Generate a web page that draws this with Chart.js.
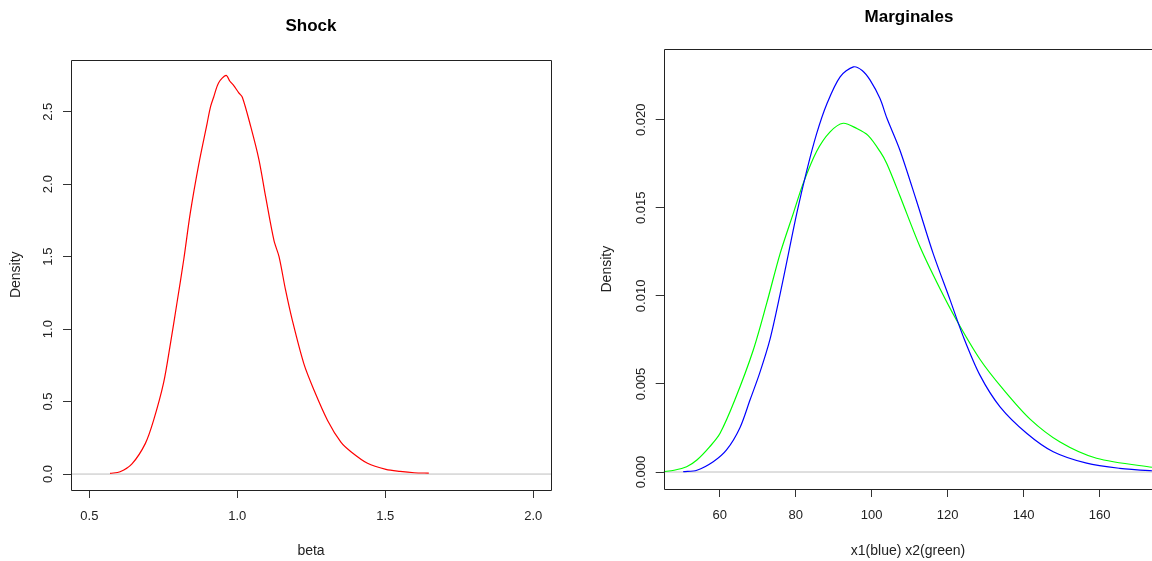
<!DOCTYPE html>
<html><head><meta charset="utf-8">
<script src="https://cdn.jsdelivr.net/npm/chart.js@4/dist/chart.umd.min.js"></script>
<style>
html,body{margin:0;padding:0;background:#fff;overflow:hidden;width:1152px;height:561px}
.wrap{position:absolute;top:0;height:561px}
#w1{left:0;width:576px}
#w2{left:576px;width:576px}
canvas{display:block}
</style></head><body>
<div class="wrap" id="w1"><canvas id="c1" width="576" height="561"></canvas></div>
<div class="wrap" id="w2"><canvas id="c2" width="576" height="561"></canvas></div>
<script>
// ---------- Left panel: Shock ----------
const shockTitle = 'Shock';
const shockXLabel = 'beta';
const shockYLabel = 'Density';
const shockX = [0.570,0.604,0.644,0.689,0.717,0.751,0.774,0.796,0.819,0.841,0.870,0.898,0.909,0.920,0.937,0.962,0.975,0.988,1.005,1.017,1.045,1.073,1.096,1.124,1.141,1.163,1.186,1.225,1.259,1.305,1.350,1.384,1.440,1.502,1.550,1.598,1.647];
const shockY = [0.005,0.016,0.07,0.21,0.37,0.63,0.90,1.18,1.48,1.80,2.14,2.42,2.53,2.60,2.70,2.75,2.71,2.68,2.63,2.60,2.40,2.17,1.91,1.61,1.50,1.27,1.06,0.76,0.58,0.37,0.22,0.154,0.074,0.032,0.018,0.009,0.007];
const shockXTicks = [0.5,1.0,1.5,2.0];
const shockXTickLabels = ['0.5','1.0','1.5','2.0'];
const shockYTicks = [0,0.5,1.0,1.5,2.0,2.5];
const shockYTickLabels = ['0.0','0.5','1.0','1.5','2.0','2.5'];
const shockXRange = [0.438,2.06];
const shockYRange = [-0.110,2.86];

// ---------- Right panel: Marginales ----------
const margTitle = 'Marginales';
const margXLabel = 'x1(blue) x2(green)';
const margYLabel = 'Density';
const x1X = [50.4,54,58.3,61.8,65.3,68.0,70.5,73.2,75.9,78.1,80.3,82.9,85.5,88.2,91.7,95.2,97.5,99.6,102.2,104.0,107.4,111.8,116.2,120.6,124.1,128.5,133.8,140.8,147.8,156.6,165.3,173.7,178];
const x1Y = [0.00002,0.0001,0.00058,0.00125,0.0025,0.0041,0.0056,0.0075,0.0101,0.0124,0.0147,0.0171,0.0192,0.0209,0.02244,0.0230,0.0228,0.02225,0.0212,0.0201,0.0183,0.0154,0.0124,0.0098,0.0077,0.0055,0.0037,0.0022,0.00115,0.0005,0.00021,0.00007,0.00004];
const x2X = [45.2,48,51.3,54.0,57.4,60.1,64.0,68.8,72.4,75.9,79.4,82.0,85.5,89.0,92.5,96.1,99.1,102.2,104.0,107.4,112.7,118.0,122.4,128.5,134.6,141.7,149.6,159.2,173.8,178];
const x2Y = [0.00002,0.0001,0.0003,0.00068,0.00144,0.0022,0.0041,0.0069,0.0096,0.0124,0.0147,0.0164,0.0182,0.0193,0.0198,0.0195,0.0191,0.0182,0.0175,0.0157,0.0128,0.0104,0.0086,0.0064,0.0047,0.0030,0.0017,0.00078,0.00027,0.0002];
const margXTicks = [60,80,100,120,140,160];
const margXTickLabels = ['60','80','100','120','140','160'];
const margYTicks = [0,0.005,0.010,0.015,0.020];
const margYTickLabels = ['0.000','0.005','0.010','0.015','0.020'];
const margXRange = [45.26,173.8];
const margYRange = [-0.000965,0.0240];

const FONT = '"Liberation Sans", Arial, sans-serif';
const toPts = (xs, ys) => xs.map((x,i)=>({x:x, y:ys[i]}));

const rText = {
  id:'rtext',
  afterDraw(chart, args, o){
    const ctx = chart.ctx, ca = chart.chartArea, ys = chart.scales.y;
    ctx.save();
    ctx.strokeStyle = '#222'; ctx.lineWidth = 1;
    ctx.beginPath();
    const L = Math.round(ca.left)+0.5, T = Math.round(ca.top)+0.5, B = Math.round(ca.bottom)+0.5, R = Math.round(ca.right)+0.5;
    if (o.fullBox){ ctx.rect(L,T,R-L,B-T); }
    else { ctx.moveTo(chart.width,T); ctx.lineTo(L,T); ctx.lineTo(L,B); ctx.lineTo(chart.width,B); }
    ctx.stroke();
    ctx.fillStyle = '#000'; ctx.textAlign='center'; ctx.textBaseline='middle';
    ctx.font = 'bold 17px ' + FONT;
    ctx.fillText(o.title, o.titleX, o.titleY);
    ctx.fillStyle = '#222';
    ctx.font = '14px ' + FONT;
    ctx.fillText(o.xTitle, o.xTitleX, o.xTitleY);
    ctx.save(); ctx.translate(o.yTitleX, (ca.top+ca.bottom)/2); ctx.rotate(-Math.PI/2); ctx.fillText(o.yTitle,0,0); ctx.restore();
    ctx.font = '13px ' + FONT;
    o.yTicks.forEach((v,i)=>{
      const y = ys.getPixelForValue(v);
      ctx.save(); ctx.translate(o.yTickX, y); ctx.rotate(-Math.PI/2); ctx.fillText(o.yTickLabels[i],0,0); ctx.restore();
    });
    ctx.restore();
  }
};

function makeChart(id, datasets, cfg){
  return new Chart(document.getElementById(id), {
    type:'line',
    data:{datasets},
    plugins:[rText],
    options:{
      responsive:false, animation:false, devicePixelRatio:1,
      layout:{padding:{left:0, top:cfg.top, right:cfg.right, bottom:0}},
      elements:{point:{radius:0}, line:{borderWidth:1.2, tension:0.3}},
      plugins:{legend:{display:false}, tooltip:{enabled:false}, title:{display:false}, rtext:cfg.text},
      scales:{
        x:{type:'linear', min:cfg.xr[0], max:cfg.xr[1],
          afterBuildTicks(s){ s.ticks = cfg.xTicks.map(v=>({value:v})); },
          afterFit(s){ s.height = cfg.xh; },
          grid:{drawOnChartArea:false, drawTicks:true, tickLength:8, color:'#333'},
          border:{display:false},
          ticks:{padding:11, color:'#222', font:{family:FONT, size:13}, maxRotation:0, autoSkip:false,
            callback:(v,i)=>cfg.xTickLabels[i]}
        },
        y:{type:'linear', min:cfg.yr[0], max:cfg.yr[1],
          afterBuildTicks(s){ s.ticks = cfg.yTicks.map(v=>({value:v})); },
          afterFit(s){ s.width = cfg.yw; },
          grid:{drawOnChartArea:false, drawTicks:true, tickLength:8, color:'#333'},
          border:{display:false},
          ticks:{display:false}
        }
      }
    }
  });
}

makeChart('c1', [
  {data:toPts(shockX, shockY), borderColor:'#ff0000', fill:false},
  {data:[{x:shockXRange[0],y:0},{x:shockXRange[1],y:0}], borderColor:'#bebebe', borderWidth:1, tension:0}
], {top:59.5, right:25, xh:71, yw:71, xr:shockXRange, yr:shockYRange,
    xTicks:shockXTicks, xTickLabels:shockXTickLabels, yTicks:shockYTicks,
    text:{fullBox:true, title:shockTitle, titleX:311, titleY:26, xTitle:shockXLabel, xTitleX:311, xTitleY:551, yTitle:shockYLabel, yTitleX:16, yTickX:48, yTicks:shockYTicks, yTickLabels:shockYTickLabels}});

makeChart('c2', [
  {data:toPts(x1X, x1Y), borderColor:'#0000ff', fill:false},
  {data:toPts(x2X, x2Y), borderColor:'#00ff00', fill:false},
  {data:[{x:margXRange[0],y:0},{x:margXRange[1],y:0}], borderColor:'#bebebe', borderWidth:1, tension:0}
], {top:49.3, right:0, xh:72, yw:87.7, xr:margXRange, yr:margYRange,
    xTicks:margXTicks, xTickLabels:margXTickLabels, yTicks:margYTicks,
    text:{fullBox:false, title:margTitle, titleX:333, titleY:17, xTitle:margXLabel, xTitleX:332, xTitleY:551, yTitle:margYLabel, yTitleX:31, yTickX:65.5, yTicks:margYTicks, yTickLabels:margYTickLabels}});
</script>
</body></html>
